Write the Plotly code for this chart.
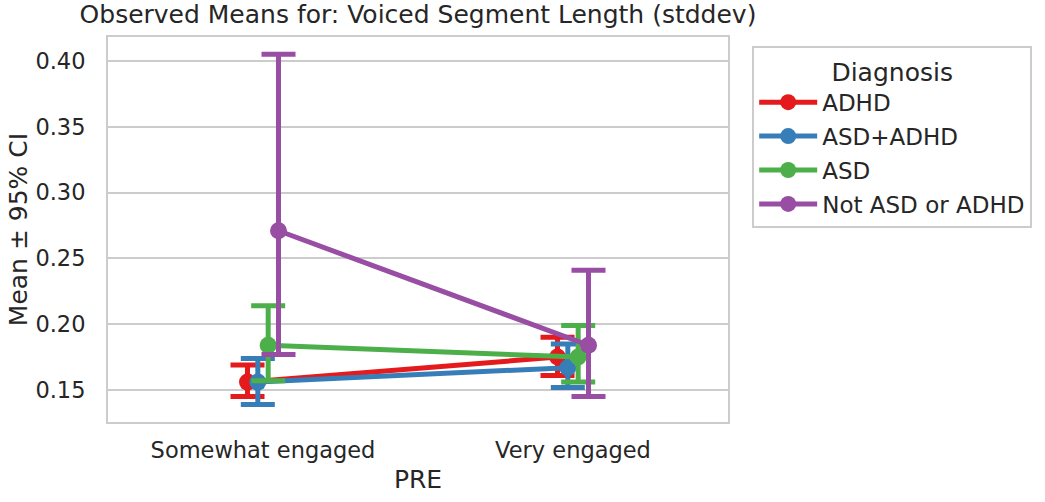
import plotly.graph_objects as go

categories = ["Somewhat engaged", "Very engaged"]
groups = ["ADHD", "ASD+ADHD", "ASD", "Not ASD or ADHD"]
colors = ["#e41a1c", "#377eb8", "#4daf4a", "#984ea3"]

means = {
    "ADHD": [0.156, 0.175],
    "ASD+ADHD": [0.156, 0.167],
    "ASD": [0.184, 0.175],
    "Not ASD or ADHD": [0.271, 0.184],
}
ci_low = {
    "ADHD": [0.145, 0.161],
    "ASD+ADHD": [0.139, 0.152],
    "ASD": [0.157, 0.156],
    "Not ASD or ADHD": [0.177, 0.145],
}
ci_high = {
    "ADHD": [0.169, 0.190],
    "ASD+ADHD": [0.174, 0.185],
    "ASD": [0.214, 0.199],
    "Not ASD or ADHD": [0.405, 0.241],
}

dodge = [-0.05, -0.0167, 0.0167, 0.05]
font = "DejaVu Sans"

fig = go.Figure()
for g, c, d in zip(groups, colors, dodge):
    m = means[g]
    x = [i + d for i in range(len(categories))]
    fig.add_trace(go.Scatter(
        x=x, y=m, mode="lines+markers", name=g, legendgroup=g,
        line=dict(color=c, width=5),
        marker=dict(color=c, size=17),
        error_y=dict(type="data", symmetric=False,
                     array=[h - v for h, v in zip(ci_high[g], m)],
                     arrayminus=[v - l for v, l in zip(m, ci_low[g])],
                     color=c, thickness=5, width=17),
    ))

fig.update_layout(
    width=1045, height=502,
    margin=dict(l=108, r=317, t=37, b=80),
    paper_bgcolor="white", plot_bgcolor="white",
    font=dict(family=font, size=22, color="#262626"),
    title=dict(text="Observed Means for: Voiced Segment Length (stddev)",
               x=(108 + 310) / 1045, xanchor="center", y=0.99, yanchor="top",
               font=dict(size=25, color="#262626")),
    xaxis=dict(range=[-0.5, 1.5], tickvals=[0, 1], ticktext=categories,
               showgrid=False, zeroline=False, showline=True, mirror=True,
               linecolor="#cccccc", linewidth=2, ticks="", ticklabelstandoff=7,
               automargin=False,
               title=dict(text="PRE", font=dict(size=25), standoff=8),
               tickfont=dict(size=22.5)),
    yaxis=dict(range=[0.1257, 0.4182], tickvals=[0.15, 0.20, 0.25, 0.30, 0.35, 0.40],
               ticktext=["0.15", "0.20", "0.25", "0.30", "0.35", "0.40"],
               showgrid=True, gridcolor="#cccccc", gridwidth=2, zeroline=False,
               showline=True, mirror=True, linecolor="#cccccc", linewidth=2,
               ticks="", ticklabelstandoff=16, automargin=False,
               title=dict(text="Mean ± 95% CI", font=dict(size=25), standoff=1),
               tickfont=dict(size=22.5)),
    legend=dict(x=1.039, y=0.976, xanchor="left", yanchor="top",
                bordercolor="#cccccc", borderwidth=2, bgcolor="white",
                traceorder="grouped",
                title=dict(text="Diagnosis", side="top center", font=dict(size=25)),
                font=dict(size=23), itemwidth=58, tracegroupgap=1),
    showlegend=True,
)

fig.write_html("out.html")
